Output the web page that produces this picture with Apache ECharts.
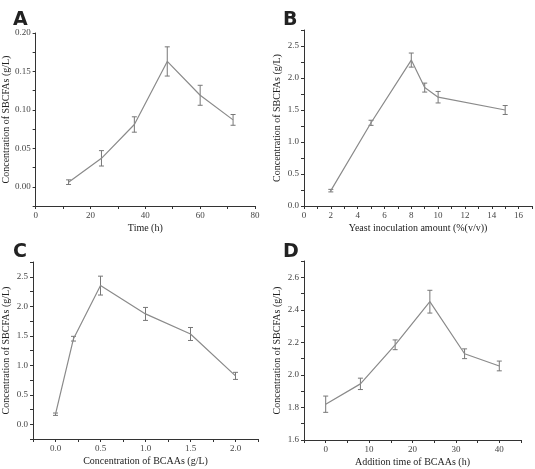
<!DOCTYPE html>
<html><head><meta charset="utf-8">
<script src="https://cdn.jsdelivr.net/npm/echarts@6/dist/echarts.min.js"></script>
<style>html,body{margin:0;padding:0;background:#fff}#main{width:535px;height:469px}</style>
</head><body><div id="main"></div>
<script>
// panel A: time course
const timeH = [12, 24, 36, 48, 60, 72];
const sbcfaA = [0.006, 0.037, 0.081, 0.163, 0.119, 0.087];
const errA = [0.003, 0.010, 0.010, 0.019, 0.013, 0.007];
// panel B: yeast inoculation
const inoculation = [2, 5, 8, 9, 10, 15];
const sbcfaB = [0.24, 1.30, 2.28, 1.85, 1.70, 1.50];
const errB = [0.02, 0.04, 0.11, 0.07, 0.09, 0.07];
// panel C: BCAA concentration
const bcaaConc = [0, 0.2, 0.5, 1.0, 1.5, 2.0];
const sbcfaC = [0.17, 1.45, 2.35, 1.87, 1.53, 0.82];
const errC = [0.02, 0.04, 0.16, 0.11, 0.11, 0.06];
// panel D: BCAA addition time
const addTime = [0, 8, 16, 24, 32, 40];
const sbcfaD = [1.82, 1.945, 2.185, 2.45, 2.13, 2.055];
const errD = [0.05, 0.035, 0.03, 0.07, 0.03, 0.03];

const serif = 'Liberation Serif';
const lineCol = '#8a8a8a';

const panels = [
  {letter: 'A', x: timeH, y: sbcfaA, e: errA, grid: {left: 33, top: 33, width: 222, height: 173},
   xa: {min: 0, max: 80, interval: 10, step: 20, dec: 0}, ya: {min: -0.025, max: 0.2, interval: 0.025, step: 0.05, dec: 2},
   xname: 'Time (h)', lx: 8, ly: 6},
  {letter: 'B', x: inoculation, y: sbcfaB, e: errB, grid: {left: 304, top: 30, width: 228, height: 176},
   xa: {min: 0, max: 17, interval: 1, step: 2, dec: 0}, ya: {min: 0, max: 2.75, interval: 0.25, step: 0.5, dec: 1},
   xname: 'Yeast inoculation amount (%(v/v))', lx: 278, ly: 6},
  {letter: 'C', x: bcaaConc, y: sbcfaC, e: errC, grid: {left: 33, top: 262, width: 225, height: 177},
   xa: {min: -0.25, max: 2.25, interval: 0.25, step: 0.5, dec: 1}, ya: {min: -0.25, max: 2.75, interval: 0.25, step: 0.5, dec: 1},
   xname: 'Concentration of BCAAs (g/L)', lx: 8, ly: 238},
  {letter: 'D', x: addTime, y: sbcfaD, e: errD, grid: {left: 304, top: 261, width: 217, height: 179},
   xa: {min: -5, max: 45, interval: 5, step: 10, dec: 0}, ya: {min: 1.6, max: 2.7, interval: 0.1, step: 0.2, dec: 1, base: 1.6},
   xname: 'Addition time of BCAAs (h)', lx: 278, ly: 238}
];

function labelFmt(a) {
  return function (v) {
    const base = a.base !== undefined ? a.base : 0;
    const k = (v - base) / a.step;
    if (v < -1e-9 || Math.abs(k - Math.round(k)) > 1e-6) return '';
    return v.toFixed(a.dec);
  };
}

function axis(a, extra) {
  return Object.assign({
    type: 'value', min: a.min, max: a.max, interval: a.interval,
    splitLine: {show: false},
    axisLine: {onZero: false, lineStyle: {color: '#333', width: 1}},
    axisTick: {length: 3, lineStyle: {color: '#333'}},
    axisLabel: {formatter: labelFmt(a), fontFamily: serif, fontSize: 9, color: '#444', margin: 5, showMinLabel: true, showMaxLabel: true},
    nameTextStyle: {fontFamily: serif, fontSize: 10, color: '#222'}
  }, extra);
}

const option = {
  animation: false,
  title: panels.map(p => ({text: p.letter, left: p.lx, top: p.ly,
    textStyle: {fontFamily: 'DejaVu Sans', fontWeight: 'bold', fontSize: 19, color: '#222'}})),
  grid: panels.map(p => p.grid),
  xAxis: panels.map((p, i) => axis(p.xa, {gridIndex: i, name: p.xname, nameLocation: 'middle', nameGap: 17})),
  yAxis: panels.map((p, i) => axis(p.ya, {gridIndex: i, name: 'Concentration of SBCFAs (g/L)', nameLocation: 'middle', nameGap: 22})),
  series: []
};

panels.forEach((p, i) => {
  option.series.push({
    type: 'line', xAxisIndex: i, yAxisIndex: i, symbol: 'none',
    lineStyle: {color: lineCol, width: 1.2},
    data: p.x.map((x, j) => [x, p.y[j]])
  });
  option.series.push({
    type: 'custom', xAxisIndex: i, yAxisIndex: i,
    data: p.x.map((x, j) => [x, p.y[j] - p.e[j], p.y[j] + p.e[j]]),
    renderItem: function (params, api) {
      const lo = api.coord([api.value(0), api.value(1)]);
      const hi = api.coord([api.value(0), api.value(2)]);
      const w = 2.5;
      const st = {stroke: '#777', lineWidth: 1};
      return {type: 'group', children: [
        {type: 'line', shape: {x1: lo[0], y1: lo[1], x2: hi[0], y2: hi[1]}, style: st},
        {type: 'line', shape: {x1: lo[0] - w, y1: lo[1], x2: lo[0] + w, y2: lo[1]}, style: st},
        {type: 'line', shape: {x1: hi[0] - w, y1: hi[1], x2: hi[0] + w, y2: hi[1]}, style: st}
      ]};
    }
  });
});

const chart = echarts.init(document.getElementById('main'));
chart.setOption(option);
</script>
</body></html>
